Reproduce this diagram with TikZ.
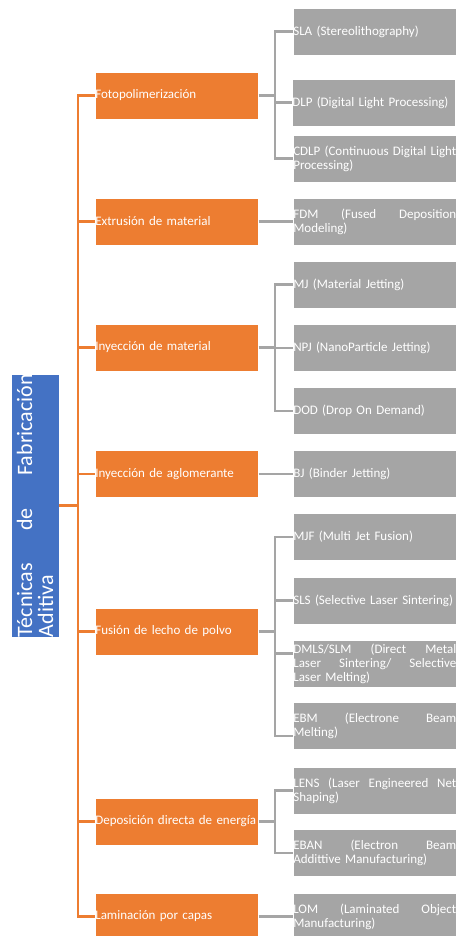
\documentclass[tikz,border=0pt]{standalone}
\usepackage{fontspec}
\setmainfont{Carlito}
\definecolor{acOrange}{HTML}{ED7D31}
\definecolor{acBlue}{HTML}{4472C4}
\definecolor{acGray}{HTML}{A5A5A5}

\begin{document}
\begin{tikzpicture}[x=1pt,y=-1pt,
		rootbox/.style={fill=acBlue,draw=white,line width=0.6pt,text=white,rotate=90,text width=263pt,minimum height=48pt,inner xsep=0pt,inner ysep=0pt,align=left,font=\fontsize{22}{21}\selectfont},
		catbox/.style={fill=acOrange,draw=white,line width=0.6pt,text=white,anchor=west,text width=163pt,minimum height=47pt,inner xsep=0pt,inner ysep=0pt,align=left,font=\fontsize{13}{14}\selectfont},
		techbox/.style={fill=acGray,draw=white,line width=0.6pt,text=white,anchor=west,text width=163pt,minimum height=47pt,inner xsep=0pt,inner ysep=0pt,align=left,font=\fontsize{13}{14}\selectfont},
		oline/.style={draw=acOrange,line width=2.2pt},
		gline/.style={draw=acGray,line width=2.2pt}]
		\useasboundingbox (0,0) rectangle (456,936);
		\coordinate (obus) at (78,0);
		\coordinate (gbus) at (275,0);
		\node[rootbox] (root) at (35,505.5) {T\'ecnicas\hfill de\hfill Fabricaci\'on\\Aditiva};
		\node[catbox] (foto) at (95,95.5) {Fotopolimerizaci\'on};
		\node[catbox] (extr) at (95,221.5) {Extrusi\'on de material};
		\node[catbox] (inym) at (95,347.5) {Inyecci\'on de material};
		\node[catbox] (inya) at (95,474) {Inyecci\'on de aglomerante};
		\node[catbox] (fusion) at (95,631.5) {Fusi\'on de lecho de polvo};
		\node[catbox] (depo) at (95,821.5) {Deposici\'on directa de energ\'ia};
		\node[catbox] (lam) at (95,916.5) {Laminaci\'on por capas};
		\node[techbox] (sla) at (293,31.5) {SLA (Stereolithography)};
		\node[techbox] (dlp) at (292,102.5) {DLP (Digital Light Processing)};
		\node[techbox] (cdlp) at (293,158.5) {CDLP\hfill (Continuous\hfill Digital\hfill Light\\Processing)};
		\node[techbox] (fdm) at (293,221.5) {FDM\hfill (Fused\hfill Deposition\\Modeling)};
		\node[techbox] (mj) at (293,284.5) {MJ (Material Jetting)};
		\node[techbox] (npj) at (293,348) {NPJ (NanoParticle Jetting)};
		\node[techbox] (dod) at (293,411) {DOD (Drop On Demand)};
		\node[techbox] (bj) at (293,474) {BJ (Binder Jetting)};
		\node[techbox] (mjf) at (293,537) {MJF (Multi Jet Fusion)};
		\node[techbox] (sls) at (293,600.5) {SLS (Selective Laser Sintering)};
		\node[techbox] (dmls) at (293,663.5) {DMLS/SLM\hfill (Direct\hfill Metal\\Laser\hfill Sintering/\hfill Selective\\Laser Melting)};
		\node[techbox] (ebm) at (293,726) {EBM\hfill (Electrone\hfill Beam\\Melting)};
		\node[techbox] (lens) at (293,790.5) {LENS\hfill (Laser\hfill Engineered\hfill Net\\Shaping)};
		\node[techbox] (eban) at (293,853) {EBAN\hfill (Electron\hfill Beam\\Addittive Manufacturing)};
		\node[techbox] (lom) at (293,916.5) {LOM\hfill (Laminated\hfill Object\\Manufacturing)};
		\coordinate (dmlsin) at ([yshift=10pt]dmls.west);
		\coordinate (ebmin) at ([yshift=-10pt]ebm.west);
		% orange tree
		\draw[oline] (root.south) -- (obus |- root.south);
		\draw[oline] (foto.west) -| (obus |- lam.west) -- (lam.west);
		\draw[oline] (obus |- extr.west) -- (extr.west);
		\draw[oline] (obus |- inym.west) -- (inym.west);
		\draw[oline] (obus |- inya.west) -- (inya.west);
		\draw[oline] (obus |- fusion.west) -- (fusion.west);
		\draw[oline] (obus |- depo.west) -- (depo.west);
		% gray branches
		\draw[gline] (foto.east) -- (gbus |- foto.east);
		\draw[gline] (sla.west) -| (gbus |- cdlp.west) -- (cdlp.west);
		\draw[gline] (gbus |- dlp.west) -- (dlp.west);
		\draw[gline] (extr.east) -- (fdm.west);
		\draw[gline] (inym.east) -- (gbus |- inym.east);
		\draw[gline] (mj.west) -| (gbus |- dod.west) -- (dod.west);
		\draw[gline] (gbus |- npj.west) -- (npj.west);
		\draw[gline] (inya.east) -- (bj.west);
		\draw[gline] (fusion.east) -- (gbus |- fusion.east);
		\draw[gline] (mjf.west) -| (gbus |- ebmin) -- (ebmin);
		\draw[gline] (gbus |- sls.west) -- (sls.west);
		\draw[gline] (gbus |- dmlsin) -- (dmlsin);
		\draw[gline] (depo.east) -- (gbus |- depo.east);
		\draw[gline] (lens.west) -| (gbus |- eban.west) -- (eban.west);
		\draw[gline] (lam.east) -- (lom.west);
\end{tikzpicture}
\end{document}
